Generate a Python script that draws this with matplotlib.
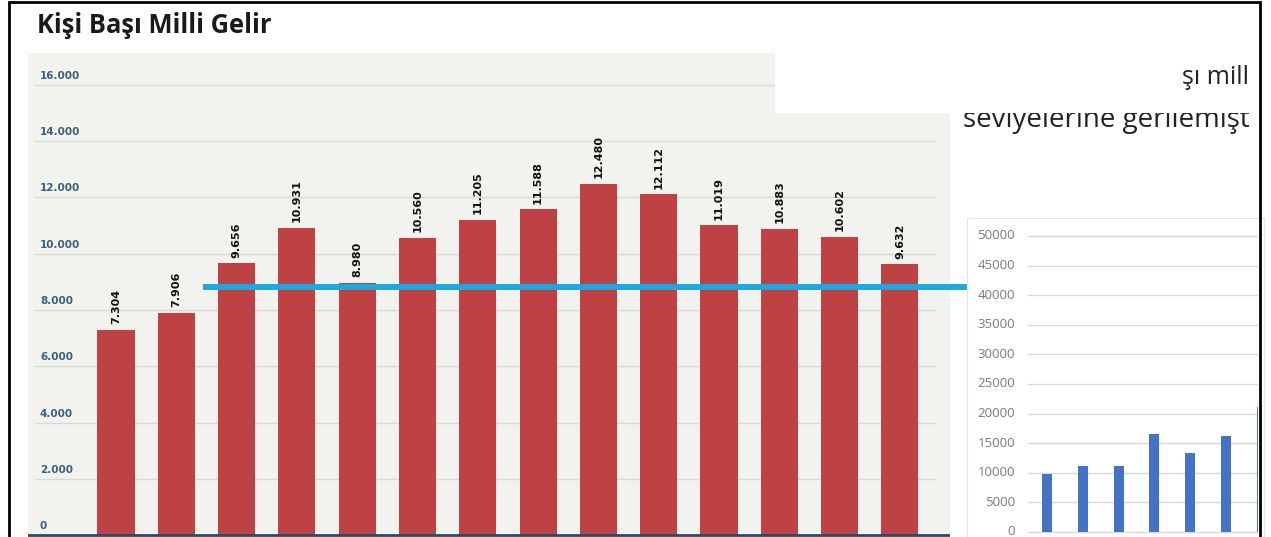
import matplotlib
matplotlib.use("Agg")
import matplotlib.pyplot as plt
from matplotlib.patches import Rectangle

# Données du graphique principal (Kişi Başı Milli Gelir)
gelir = [7304, 7906, 9656, 10931, 8980, 10560, 11205, 11588, 12480, 12112, 11019, 10883, 10602, 9632]
ana_ticks = [0, 2000, 4000, 6000, 8000, 10000, 12000, 14000, 16000]
ana_etiketler = ["0", "2.000", "4.000", "6.000", "8.000", "10.000", "12.000", "14.000", "16.000"]
ref_seviye = 8830

# Données du petit graphique à droite
sag_degerler = [9800, 11200, 11200, 16500, 13350, 16250, 21150]
sag_ticks = [0, 5000, 10000, 15000, 20000, 25000, 30000, 35000, 40000, 45000, 50000]
sag_etiketler = [str(t) for t in sag_ticks]

W, H = 1271, 537


def kutu(x0, y0, x1, y1):
    # rectangle en pixels -> coordonnées figure
    return [x0 / W, 1 - y1 / H, (x1 - x0) / W, (y1 - y0) / H]


fig = plt.figure(figsize=(W / 100, H / 100), dpi=100)
fig.patch.set_facecolor("white")

# Titre
fig.text(37 / W, 1 - 33 / H, "Kişi Başı Milli Gelir", fontsize=18.4, fontweight="bold",
         family=["Open Sans", "DejaVu Sans"], color="#1a1a1a", va="baseline")

# --- graphique principal ---
ax = fig.add_axes(kutu(28, 53, 950, 537))
ax.set_facecolor("#f2f2ee")
pas = 60.3
ax.set_xlim((28 - 116) / pas, (950 - 116) / pas)
ax.set_ylim(-60, 17133)
for s in ax.spines.values():
    s.set_visible(False)
ax.set_xticks([])
ax.set_yticks([])

gx0 = (35 - 28) / 922
gx1 = (935 - 28) / 922
for t in ana_ticks[1:]:
    ax.axhline(t, xmin=gx0, xmax=gx1, color="#d6d9d8", lw=1, zorder=1)
ax.axhline(0, color="#2d4b5e", lw=2, zorder=3)

x = list(range(len(gelir)))
ax.bar(x, gelir, width=0.614, color="#be4243", zorder=2)

etiket_font = ["Liberation Sans Narrow", "DejaVu Sans"]
for i, v in zip(x, gelir):
    ax.annotate(f"{v:,}".replace(",", "."), xy=(i, v), xytext=(0, 4),
                textcoords="offset points", rotation=90, ha="center", va="bottom",
                fontsize=8, fontweight="bold", family=etiket_font, color="#111111")

for t, lab in zip(ana_ticks, ana_etiketler):
    ax.annotate(lab, xy=((40 - 28) / 922, t), xycoords=("axes fraction", "data"),
                xytext=(0, 3), textcoords="offset points", ha="left", va="bottom",
                fontsize=7.5, fontweight="bold", family=etiket_font, color="#3d5f7a")

# ligne bleue de référence
ref_bas = (203 - 116) / pas
ref_son = (967 - 116) / pas
ax.plot([ref_bas, ref_son], [ref_seviye, ref_seviye], color="#1ea8e2", lw=4.3,
        solid_capstyle="butt", clip_on=False, zorder=6)

# --- petit graphique à droite ---
cerceve = fig.add_axes(kutu(967, 218, 1264, 537))
cerceve.set_facecolor("white")
cerceve.set_xticks([])
cerceve.set_yticks([])
for s in cerceve.spines.values():
    s.set_color("#e4e4e4")
cerceve.set_zorder(1)

bx = fig.add_axes(kutu(1028, 218, 1258, 537))
bx.set_facecolor("none")
bx.set_zorder(2)
spas = 35.8
bx.set_xlim((1028 - 1047) / spas, (1258 - 1047) / spas)
bx.set_ylim(-845, 53040)
bx.set_xticks([])
bx.set_yticks([])
for s in bx.spines.values():
    s.set_visible(False)
for t in sag_ticks:
    bx.axhline(t, color="#d9d9d9", lw=1, zorder=1)
bx.bar(range(len(sag_degerler)), sag_degerler, width=0.28, color="#4472c4", zorder=2)
for t, lab in zip(sag_ticks, sag_etiketler):
    bx.annotate(lab, xy=((1015 - 1028) / 230, t), xycoords=("axes fraction", "data"),
                ha="right", va="center", fontsize=9.5, color="#7a7a7a",
                family=["Open Sans", "DejaVu Sans"], annotation_clip=False)

# --- texte à droite et rectangle blanc ---
tx = fig.add_axes(kutu(775, 40, 1258, 140))
tx.set_xlim(775, 1258)
tx.set_ylim(140, 40)
tx.axis("off")
tx.set_zorder(5)
tx.text(963, 127, "seviyelerine gerilemişt", fontsize=20, family=["Open Sans", "DejaVu Sans"],
        color="#222222", va="baseline", clip_on=True, zorder=1)
tx.add_patch(Rectangle((775, 53), 483, 60, facecolor="white", edgecolor="none", zorder=2))
tx.text(1182, 84, "şı mill", fontsize=18, family=["Open Sans", "DejaVu Sans"],
        color="#222222", va="baseline", clip_on=True, zorder=3)

# cadre noir
fig.patches.append(Rectangle((9 / W, -0.05), (1260 - 9) / W, 1.05 - 2 / H,
                             transform=fig.transFigure, fill=False, edgecolor="black",
                             lw=2, zorder=10))

fig.savefig("out.png", dpi=100)
